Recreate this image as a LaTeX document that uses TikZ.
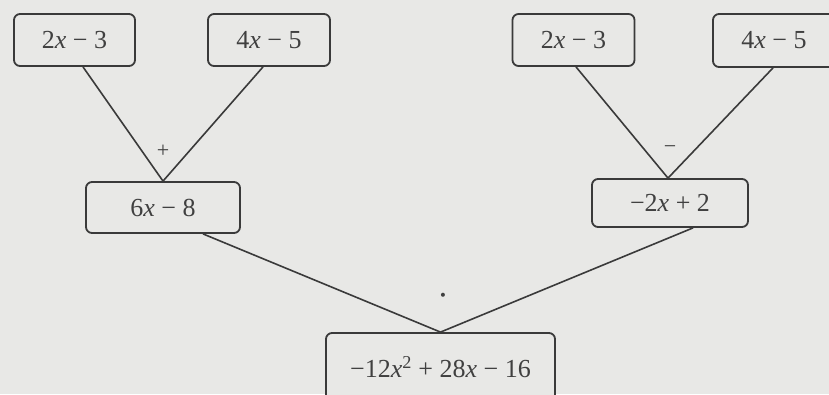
\documentclass[tikz,border=0pt]{standalone}
\usepackage{fontspec}
\setmainfont{Liberation Serif}
\definecolor{bg}{HTML}{E8E8E6}
\definecolor{ink}{HTML}{3A3A3A}
\definecolor{txt}{HTML}{404040}
\newcommand{\vx}{{\itshape x}}
\begin{document}
\begin{tikzpicture}[x=1pt,y=-1pt,
  termbox/.style={draw=ink,line width=1.8pt,rounded corners=6pt,fill=bg,text=txt,
    font=\fontsize{26}{30}\selectfont,inner sep=0pt,anchor=center},
  link/.style={draw=ink,line width=1.6pt},
  oplabel/.style={text=txt,font=\fontsize{22}{24}\selectfont,inner sep=0pt}]
\fill[bg] (0,0) rectangle (829,394);
\useasboundingbox (0,0) rectangle (829,394);
\begin{scope}
\clip (0,0) rectangle (829,394);
\node[termbox,minimum width=121pt,minimum height=52pt] (a1) at (74.5,40) {2\vx\ − 3};
\node[termbox,minimum width=122pt,minimum height=52pt] (a2) at (269,40) {4\vx\ − 5};
\node[termbox,minimum width=122pt,minimum height=52pt] (b1) at (573.5,40) {2\vx\ − 3};
\node[termbox,minimum width=122pt,minimum height=53pt] (b2) at (774,40.5) {4\vx\ − 5};
\node[termbox,minimum width=154pt,minimum height=51pt] (c1) at (163,207.5) {6\vx\ − 8};
\node[termbox,minimum width=156pt,minimum height=48pt] (c2) at (670,203) {−2\vx\ + 2};
\node[termbox,minimum width=229pt,minimum height=72pt,text depth=0pt] (d) at (440.5,369) {\raisebox{4pt}{−12\vx\textsuperscript{2} + 28\vx\ − 16}};
\draw[link] ([xshift=8.5pt]a1.south) -- (c1.north);
\draw[link] ([xshift=-6pt]a2.south) -- (c1.north);
\draw[link] ([xshift=2.5pt]b1.south) -- ([xshift=-2pt]c2.north);
\draw[link] ([xshift=-1pt]b2.south) -- ([xshift=-2pt]c2.north);
\draw[link] ([xshift=40pt]c1.south) -- (d.north);
\draw[link] ([xshift=23pt]c2.south) -- (d.north);
\node[oplabel] (plus) at (163,151) {+};
\node[oplabel] (minus) at (670,150) {−};
\node[oplabel,font=\fontsize{34}{36}\selectfont] (dot) at (443,300) {\textperiodcentered};
\end{scope}
\end{tikzpicture}
\end{document}
